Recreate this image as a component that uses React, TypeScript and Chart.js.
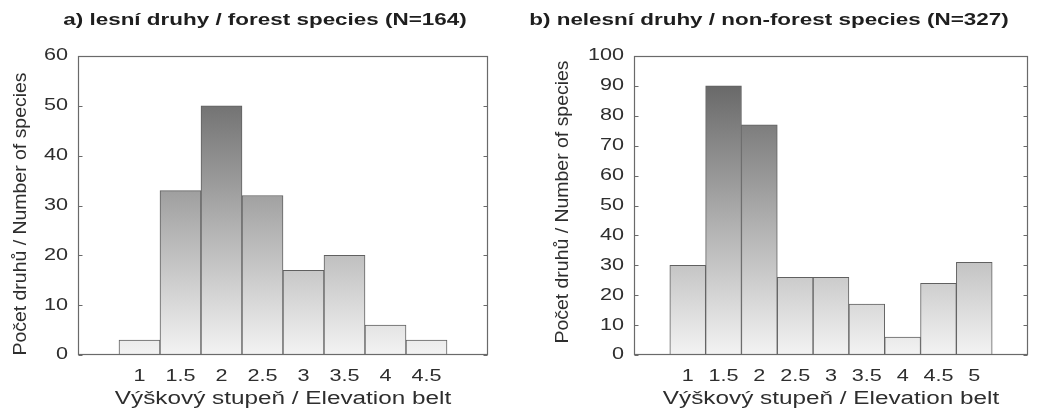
import React, { useEffect, useRef } from 'react';
import { Chart, registerables } from 'chart.js';

Chart.register(...registerables);

// ---- data ----
const categoriesA = ['', '1', '1.5', '2', '2.5', '3', '3.5', '4', '4.5', ''];
const valuesA = [null, 3, 33, 50, 32, 17, 20, 6, 3, null];
const yTicksA = [0, 10, 20, 30, 40, 50, 60];

const categoriesB = ['', '1', '1.5', '2', '2.5', '3', '3.5', '4', '4.5', '5', ''];
const valuesB = [null, 30, 90, 77, 26, 26, 17, 6, 24, 31, null];
const yTicksB = [0, 10, 20, 30, 40, 50, 60, 70, 80, 90, 100];

const titleA = 'a) lesní druhy / forest species (N=164)';
const titleB = 'b) nelesní druhy / non-forest species (N=327)';
const xAxisTitle = 'Výškový stupeň / Elevation belt';
const yAxisTitle = 'Počet druhů / Number of species';

const FONT = '"Liberation Sans", Arial, Helvetica, sans-serif';

type Cfg = {
  categories: string[];
  values: (number | null)[];
  yTicks: number[];
  title: string;
  titleX: number;
  yTitleX: number;
  yTitleY: number;
  padding: { left: number; right: number; top: number; bottom: number };
};

function stretchText(
  ctx: CanvasRenderingContext2D,
  text: string,
  x: number,
  y: number,
  sx: number,
  align: CanvasTextAlign,
  rotate = false
) {
  ctx.save();
  ctx.translate(x, y);
  if (rotate) ctx.rotate(-Math.PI / 2);
  ctx.scale(sx, 1);
  ctx.textAlign = align;
  ctx.textBaseline = 'middle';
  ctx.fillText(text, 0, 0);
  ctx.restore();
}

function makeDecor(cfg: Cfg) {
  return {
    id: 'decor',
    afterDraw(chart: any) {
      const ctx: CanvasRenderingContext2D = chart.ctx;
      const a = chart.chartArea;
      const xs = chart.scales.x;
      const ys = chart.scales.y;
      ctx.save();
      // frame
      ctx.strokeStyle = '#6a6a6a';
      ctx.lineWidth = 1.2;
      const L = Math.round(a.left) + 0.5;
      const R = Math.round(a.right) - 0.5;
      const T = Math.round(a.top) + 0.5;
      const B = Math.round(a.bottom) - 0.5;
      ctx.strokeRect(L, T, R - L, B - T);
      // inward ticks on left and right
      ctx.lineWidth = 1;
      ctx.beginPath();
      cfg.yTicks.forEach((v) => {
        const y = Math.round(ys.getPixelForValue(v)) + 0.5;
        ctx.moveTo(L, y);
        ctx.lineTo(L + 4, y);
        ctx.moveTo(R, y);
        ctx.lineTo(R - 4, y);
      });
      ctx.stroke();

      // y tick labels
      ctx.fillStyle = '#2e2e2e';
      ctx.font = '16px ' + FONT;
      cfg.yTicks.forEach((v) => {
        stretchText(ctx, String(v), a.left - 10, ys.getPixelForValue(v), 1.35, 'right');
      });
      // x tick labels
      cfg.categories.forEach((c, i) => {
        if (!c) return;
        stretchText(ctx, c, xs.getPixelForValue(i), a.bottom + 22, 1.35, 'center');
      });
      // x axis title
      ctx.font = '18px ' + FONT;
      stretchText(ctx, xAxisTitle, (a.left + a.right) / 2, a.bottom + 44, 1.35, 'center');
      // y axis title
      ctx.font = '18px ' + FONT;
      stretchText(ctx, yAxisTitle, cfg.yTitleX, cfg.yTitleY, 1.08, 'center', true);
      // chart title
      ctx.fillStyle = '#1e1e1e';
      ctx.font = 'bold 17px ' + FONT;
      stretchText(ctx, cfg.title, cfg.titleX, 20, 1.32, 'center');
      ctx.restore();
    },
  };
}

function Panel({ cfg, width }: { cfg: Cfg; width: number }) {
  const ref = useRef<HTMLCanvasElement | null>(null);
  useEffect(() => {
    if (!ref.current) return;
    const ymax = cfg.yTicks[cfg.yTicks.length - 1];
    const chart = new Chart(ref.current, {
      type: 'bar',
      data: {
        labels: cfg.categories,
        datasets: [
          {
            data: cfg.values as any,
            backgroundColor: (c: any) => {
              const area = c.chart.chartArea;
              if (!area) return '#bbbbbb';
              const g = c.chart.ctx.createLinearGradient(0, area.top, 0, area.bottom);
              g.addColorStop(0, '#5a5a5a');
              g.addColorStop(1, '#f3f3f3');
              return g;
            },
            borderColor: '#606060',
            borderWidth: 1,
            borderSkipped: false,
            barPercentage: 1,
            categoryPercentage: 1,
          },
        ],
      },
      options: {
        responsive: false,
        animation: false,
        devicePixelRatio: 1,
        layout: { padding: cfg.padding },
        plugins: { legend: { display: false }, tooltip: { enabled: false }, title: { display: false } },
        scales: {
          x: { type: 'category', display: false, offset: true },
          y: { display: false, min: 0, max: ymax },
        },
      },
      plugins: [makeDecor(cfg)],
    });
    return () => chart.destroy();
  }, []);
  return <canvas ref={ref} width={width} height={416} style={{ display: 'block', width, height: 416 }} />;
}

const cfgA: Cfg = {
  categories: categoriesA,
  values: valuesA,
  yTicks: yTicksA,
  title: titleA,
  titleX: 265,
  yTitleX: 21,
  yTitleY: 214,
  padding: { left: 78, right: 34, top: 56, bottom: 61 },
};

const cfgB: Cfg = {
  categories: categoriesB,
  values: valuesB,
  yTicks: yTicksB,
  title: titleB,
  titleX: 247,
  yTitleX: 41,
  yTitleY: 202,
  padding: { left: 112, right: 17, top: 56, bottom: 61 },
};

export default function App() {
  return (
    <div style={{ position: 'fixed', left: 0, top: 0, width: 1045, height: 416, background: '#fff', display: 'flex' }}>
      <Panel cfg={cfgA} width={522} />
      <Panel cfg={cfgB} width={523} />
    </div>
  );
}
